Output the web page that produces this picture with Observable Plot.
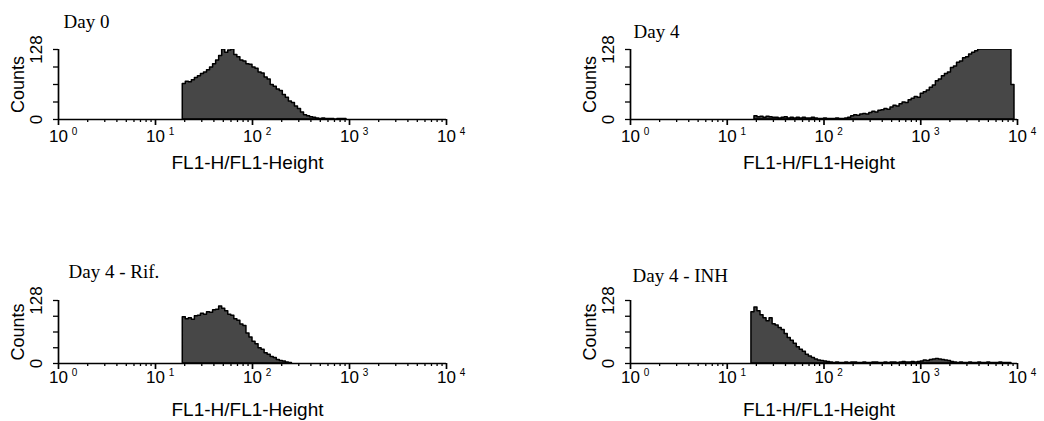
<!DOCTYPE html>
<html><head><meta charset="utf-8">
<script src="https://cdn.jsdelivr.net/npm/d3@7"></script>
<script src="https://cdn.jsdelivr.net/npm/@observablehq/plot@0.6"></script>
<style>
body{margin:0;background:#fff;}
#wrap{position:relative;width:1044px;height:421px;overflow:hidden;background:#fff;}
.panel{position:absolute;}
</style></head><body><div id="wrap"></div>
<script>
// ---- data ----
const panelTitles = ["Day 0", "Day 4", "Day 4 - Rif.", "Day 4 - INH"];
const xAxisTitle = "FL1-H/FL1-Height";
const yAxisTitle = "Counts";
const binsPerDecade = 32;            // channel width on the log axis
const decadeExponents = [0, 1, 2, 3, 4];
const minorMultipliers = [2, 3, 4, 5, 6, 7, 8, 9];
const yTickValues = [0, 32, 64, 96, 128];
const yTickLabels = [0, 128];

const day0Start = 41;
const day0Counts = [65,69,68,72,76,79,83,86,90,95,101,108,116,128,122,126,128,118,114,108,106,101,100,95,93,86,84,77,73,63,60,55,52,45,40,33,30,24,19,13,8,6,4,3,2,1,2,1,1,1,0,1,1,1];

const day4Start = 41;
const day4Counts = [6,4,5,3,5,4,3,
  3,2,3,4,2,3,2,3,2,3,2,2,3,2,
  1,1,2,1,1,1,2,1,1,2,3,
  6,8,7,9,10,9,12,14,13,16,17,19,18,22,25,24,28,31,30,35,38,41,40,47,50,53,58,62,70,73,79,83,86,94,97,104,106,112,114,119,122,125,
  128,128,128,128,128,128,128,128,128,128,128,63];

const rifStart = 41;
const rifCounts = [94,90,92,89,96,97,101,99,104,103,108,109,116,111,106,99,97,90,87,79,76,61,53,44,39,31,28,21,18,13,11,7,5,4,2,1];

const inhStart = 40;
const inhCounts = [104,114,106,98,92,86,92,80,77,72,68,60,52,46,40,33,28,24,18,14,11,8,6,5,4,3,
  2,1,2,1,1,2,1,2,2,1,1,2,1,1,2,2,1,1,2,1,2,2,1,2,3,2,2,3,2,3,
  4,6,5,7,8,9,8,7,6,5,3,
  2,1,2,1,1,2,1,1,2,1,1,2,1,1,1,2,1,1,1];

// ---- layout ----
const panels = [
  {title: panelTitles[0], start: day0Start, counts: day0Counts, left: 0,   top: 0,   height: 200, mt: 49, mb: 81, ml: 58,  mr: 76, tdx: 5, tdy: -28, lab: 17, ttl: 43},
  {title: panelTitles[1], start: day4Start, counts: day4Counts, left: 522, top: 0,   height: 200, mt: 49, mb: 81, ml: 108, mr: 27, tdx: 3, tdy: -18, lab: 17, ttl: 43},
  {title: panelTitles[2], start: rifStart,  counts: rifCounts,  left: 0,   top: 210, height: 211, mt: 90, mb: 58, ml: 58,  mr: 76, tdx: 10, tdy: -29, lab: 14, ttl: 46},
  {title: panelTitles[3], start: inhStart,  counts: inhCounts,  left: 522, top: 210, height: 211, mt: 90, mb: 58, ml: 108, mr: 27, tdx: 2, tdy: -25, lab: 14, ttl: 46}
];

function toBins(start, counts) {
  const pts = counts.map((c, k) => ({x: Math.pow(10, (start + k) / binsPerDecade), count: c}));
  pts.push({x: Math.pow(10, (start + counts.length) / binsPerDecade), count: 0});
  return pts;
}

const majorTicks = decadeExponents.map(e => Math.pow(10, e));
const minorTicks = decadeExponents.slice(0, -1).flatMap(e => minorMultipliers.map(m => m * Math.pow(10, e)));

const wrap = document.getElementById("wrap");
for (const p of panels) {
  const data = toBins(p.start, p.counts);
  const chart = Plot.plot({
    width: 522,
    height: p.height,
    marginTop: p.mt, marginBottom: p.mb, marginLeft: p.ml, marginRight: p.mr,
    style: {fontFamily: "'Liberation Sans', Arial, sans-serif", fontSize: "17px", color: "#000", background: "transparent", overflow: "visible"},
    x: {type: "log", domain: [1, 1e4], axis: null},
    y: {domain: [0, 128], axis: null},
    marks: [
      Plot.areaY(data, {x: "x", y: "count", curve: "step-after", fill: "#474747", stroke: "#000", strokeWidth: 1.5, clip: true}),
      Plot.ruleY([0], {stroke: "#000", strokeWidth: 1.7}),
      Plot.ruleX([1], {stroke: "#000", strokeWidth: 1.7}),
      Plot.axisX({ticks: minorTicks, tickSize: 3, tickFormat: () => "", label: null, strokeWidth: 1.3}),
      Plot.axisX({ticks: majorTicks, tickSize: 6, tickFormat: () => "", label: null, strokeWidth: 1.7}),
      Plot.axisY({ticks: yTickValues, tickSize: 5, tickFormat: () => "", label: null, strokeWidth: 1.3}),
      Plot.text(decadeExponents, {x: d => Math.pow(10, d), text: () => "10", frameAnchor: "bottom", dy: p.lab, lineAnchor: "middle", textAnchor: "middle", fontSize: 17, letterSpacing: 1.5}),
      Plot.text(decadeExponents, {x: d => Math.pow(10, d), text: d => String(d), frameAnchor: "bottom", dy: p.lab - 5, dx: 16, lineAnchor: "middle", textAnchor: "middle", fontSize: 10}),
      Plot.text([xAxisTitle], {text: d => d, frameAnchor: "bottom", dy: p.ttl, dx: -5, lineAnchor: "middle", textAnchor: "middle", fontSize: 19, letterSpacing: 0.6}),
      Plot.text(yTickLabels, {y: d => d, text: d => String(d), frameAnchor: "left", dx: -22, rotate: -90, lineAnchor: "middle", textAnchor: "middle", fontSize: 17, letterSpacing: 0.5}),
      Plot.text([yAxisTitle], {text: d => d, frameAnchor: "left", dx: -40, rotate: -90, lineAnchor: "middle", textAnchor: "middle", fontSize: 18, letterSpacing: 0.5}),
      Plot.text([p.title], {text: d => d, frameAnchor: "top-left", dx: p.tdx, dy: p.tdy, lineAnchor: "middle", textAnchor: "start", fontFamily: "'Liberation Serif', 'Times New Roman', serif", fontSize: 19, letterSpacing: 1})
    ]
  });
  const div = document.createElement("div");
  div.className = "panel";
  div.style.left = p.left + "px";
  div.style.top = p.top + "px";
  div.appendChild(chart);
  wrap.appendChild(div);
}
</script>
</body></html>
